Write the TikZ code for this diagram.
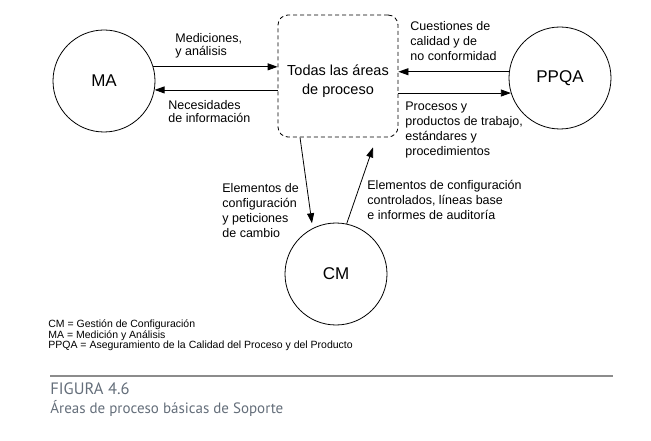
\documentclass[tikz,border=0pt]{standalone}
\usepackage{fontspec}
\setmainfont{Liberation Sans}
\newfontfamily\capfont{PT Sans}
\usetikzlibrary{arrows.meta, positioning, calc}
\definecolor{capgray}{RGB}{100,110,122}
\definecolor{rulegray}{RGB}{140,140,140}

\begin{document}
\begin{tikzpicture}[x=1pt, y=-1pt, >={Triangle[length=10pt,width=7pt]}, line width=0.8pt,
  proc/.style={draw, circle, minimum size=102pt, inner sep=0pt, font=\fontsize{17}{20}\selectfont},
  area/.style={draw, dash pattern=on 4pt off 3pt, rounded corners=10pt, minimum width=120pt, minimum height=122pt},
  lbl/.style={anchor=west, align=left, inner sep=0pt, font=\fontsize{12.5}{15}\selectfont}]
  \useasboundingbox (0,0) rectangle (651,441);

  \node[area] (AREAS) at (338,76) {};
  \node[align=center, font=\fontsize{14.5}{19}\selectfont] (areasTxt) at (338,81.5) {Todas las áreas\\de proceso};
  \node[proc] (MA) at (104,81) {MA};
  \node[proc] (PPQA) at (560,78) {PPQA};
  \node[proc] (CM) at (336,274) {CM};
  \coordinate (cmTip) at ([xshift=35pt,yshift=-10pt]AREAS.south);

  \draw[->] (MA.16) -- (MA.16 -| AREAS.west);
  \draw[->] (AREAS.west |- MA.-10) -- (MA.-10);
  \draw[->] (PPQA.173) -- (PPQA.173 -| AREAS.east);
  \draw[->] (AREAS.east |- PPQA.197) -- (PPQA.197);
  \draw[->, shorten >=5pt] ([xshift=-38pt]AREAS.south) -- (CM.117);
  \draw[->] (CM.78) -- (cmTip);

  \node[lbl, font=\fontsize{12.5}{12.5}\selectfont] (medLbl) at (175,46) {Mediciones,\\y análisis};
  \node[lbl, font=\fontsize{12.5}{13.5}\selectfont] (necLbl) at (168,111.5) {Necesidades\\de información};
  \node[lbl] (cueLbl) at (410,41) {Cuestiones de\\calidad y de\\no conformidad};
  \node[lbl] (proLbl) at (405,130) {Procesos y\\productos de trabajo,\\estándares y\\procedimientos};
  \node[lbl] (elemLbl) at (222,211) {Elementos de\\configuración\\y peticiones\\de cambio};
  \node[lbl] (ctrlLbl) at (367,200) {Elementos de configuración\\controlados, líneas base\\e informes de auditoría};

  \node[lbl, font=\fontsize{10.5}{10.5}\selectfont] (legend) at (48,335.5) {CM = Gestión de Configuración\\MA = Medición y Análisis\\PPQA = Aseguramiento de la Calidad del Proceso y del Producto};
  \draw[rulegray, line width=2pt] (50,376) -- (613,376);
  \node[lbl, text=capgray, font=\capfont\fontsize{15}{19}\selectfont] (caption) at (50,399.5) {{\fontsize{16.5}{19}\selectfont FIGURA 4.6}\\Áreas de proceso básicas de Soporte};
\end{tikzpicture}
\end{document}
